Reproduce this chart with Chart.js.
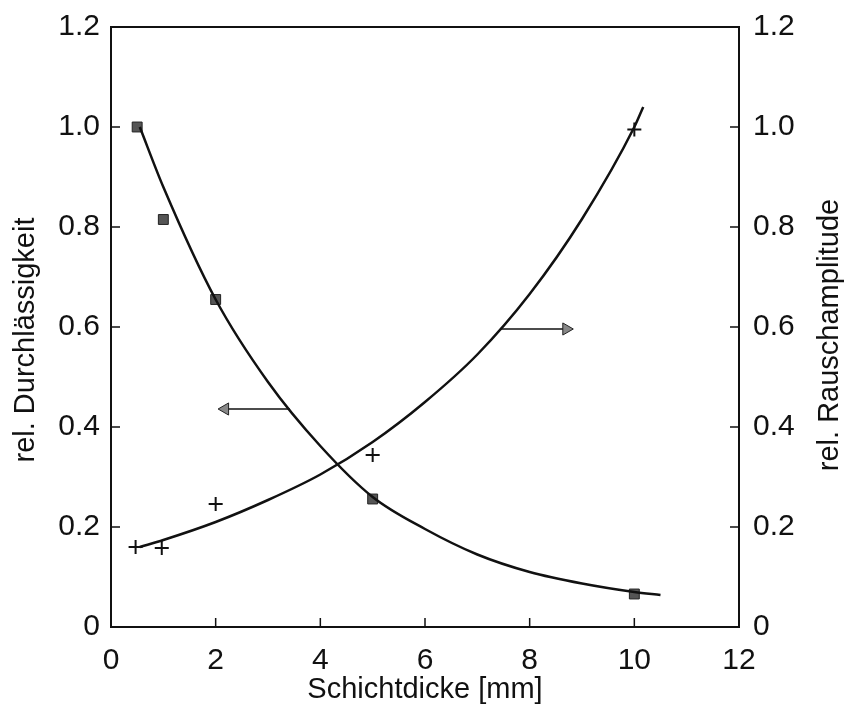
<!DOCTYPE html>
<html>
<head>
<meta charset="utf-8">
<script src="https://cdn.jsdelivr.net/npm/chart.js@4"></script>
<style>
  html, body { margin: 0; padding: 0; background: #fff; }
  #wrap { width: 846px; height: 720px; }
</style>
</head>
<body>
<div id="wrap"><canvas id="chart" width="846" height="720"></canvas></div>
<script>
// measured points
const thickness = [0.5, 1, 2, 5, 10];
const transmission = [1.0, 0.815, 0.655, 0.256, 0.066];
const noiseX = [0.47, 0.97, 2.0, 5.0, 10.0];
const noise = [0.16, 0.158, 0.246, 0.344, 0.995];

// fitted curves
const fitTransX = [0.55, 1, 2, 3, 4, 5, 6, 7, 8, 9, 10, 10.5];
const fitTransY = [1.0, 0.88, 0.655, 0.49, 0.362, 0.26, 0.196, 0.145, 0.11, 0.087, 0.07, 0.064];
const fitNoiseX = [0.55, 1, 2, 3, 4, 5, 6, 7, 8, 9, 10, 10.17];
const fitNoiseY = [0.16, 0.174, 0.21, 0.254, 0.305, 0.37, 0.45, 0.545, 0.666, 0.816, 1.0, 1.04];

// arrows pointing to the matching axis
const arrowLeftX = [3.42, 2.18];
const arrowLeftY = [0.436, 0.436];
const arrowRightX = [7.44, 8.70];
const arrowRightY = [0.596, 0.596];

const xTicks = [0, 2, 4, 6, 8, 10, 12];
const yTicks = [0, 0.2, 0.4, 0.6, 0.8, 1.0, 1.2];

const FONT = "'Liberation Sans', Arial, sans-serif";

function pts(xs, ys) {
    return xs.map((x, i) => ({ x: x, y: ys[i] }));
}

function fmt(v) {
    return v === 0 ? '0' : v.toFixed(1);
}

const framePlugin = {
    id: 'frame',
    afterDraw(chart) {
        const ctx = chart.ctx;
        const a = chart.chartArea;
        const sx = chart.scales.x, sy = chart.scales.y, sy2 = chart.scales.y2;
        ctx.save();
        ctx.strokeStyle = '#111';
        ctx.lineWidth = 2;
        ctx.strokeRect(a.left, a.top, a.right - a.left, a.bottom - a.top);

        // inward tick marks
        ctx.lineWidth = 1.5;
        ctx.beginPath();
        xTicks.slice(1, -1).forEach(v => {
            const px = sx.getPixelForValue(v);
            ctx.moveTo(px, a.bottom);
            ctx.lineTo(px, a.bottom - 9);
        });
        yTicks.slice(1, -1).forEach(v => {
            const py = sy.getPixelForValue(v);
            ctx.moveTo(a.left, py);
            ctx.lineTo(a.left + 9, py);
            const py2 = sy2.getPixelForValue(v);
            ctx.moveTo(a.right, py2);
            ctx.lineTo(a.right - 9, py2);
        });
        ctx.stroke();

        // axis titles
        ctx.fillStyle = '#111';
        ctx.font = '29px ' + FONT;
        ctx.textAlign = 'center';
        ctx.textBaseline = 'middle';
        ctx.fillText('Schichtdicke [mm]', 425, 690);

        ctx.translate(26, 340);
        ctx.rotate(-Math.PI / 2);
        ctx.fillText('rel. Durchlässigkeit', 0, 0);
        ctx.setTransform(1, 0, 0, 1, 0, 0);

        ctx.translate(830, 335);
        ctx.rotate(-Math.PI / 2);
        ctx.fillText('rel. Rauschamplitude', 0, 0);
        ctx.restore();
    }
};

const ctx = document.getElementById('chart').getContext('2d');
const chart = new Chart(ctx, {
    type: 'scatter',
    data: {
        datasets: [
            {
                label: 'Durchlässigkeit Fit',
                data: pts(fitTransX, fitTransY),
                yAxisID: 'y',
                showLine: true,
                cubicInterpolationMode: 'monotone',
                borderColor: '#111',
                borderWidth: 2.5,
                pointRadius: 0
            },
            {
                label: 'Rauschamplitude Fit',
                data: pts(fitNoiseX, fitNoiseY),
                yAxisID: 'y2',
                showLine: true,
                cubicInterpolationMode: 'monotone',
                borderColor: '#111',
                borderWidth: 2.5,
                pointRadius: 0
            },
            {
                label: 'rel. Durchlässigkeit',
                data: pts(thickness, transmission),
                yAxisID: 'y',
                pointStyle: 'rect',
                pointRadius: 7,
                backgroundColor: '#555',
                borderColor: '#222',
                borderWidth: 1
            },
            {
                label: 'rel. Rauschamplitude',
                data: pts(noiseX, noise),
                yAxisID: 'y2',
                pointStyle: 'cross',
                pointRadius: 7,
                borderColor: '#111',
                borderWidth: 2
            },
            {
                label: 'arrow left',
                data: pts(arrowLeftX, arrowLeftY),
                yAxisID: 'y',
                showLine: true,
                borderColor: '#111',
                borderWidth: 1.5,
                pointStyle: 'triangle',
                pointRotation: -90,
                pointRadius: [0, 7],
                pointBackgroundColor: '#888',
                pointBorderColor: '#222',
                pointBorderWidth: 1
            },
            {
                label: 'arrow right',
                data: pts(arrowRightX, arrowRightY),
                yAxisID: 'y2',
                showLine: true,
                borderColor: '#111',
                borderWidth: 1.5,
                pointStyle: 'triangle',
                pointRotation: 90,
                pointRadius: [0, 7],
                pointBackgroundColor: '#888',
                pointBorderColor: '#222',
                pointBorderWidth: 1
            }
        ]
    },
    options: {
        responsive: false,
        animation: false,
        events: [],
        layout: { padding: { top: 27, left: 0, right: 0, bottom: 0 } },
        plugins: {
            legend: { display: false },
            tooltip: { enabled: false }
        },
        scales: {
            x: {
                type: 'linear',
                min: 0,
                max: 12,
                afterBuildTicks: s => { s.ticks = xTicks.map(v => ({ value: v })); },
                afterFit: s => { s.height = 93; },
                grid: { display: false },
                border: { display: false },
                ticks: {
                    padding: 8,
                    color: '#111',
                    font: { family: FONT, size: 30 },
                    callback: v => String(v)
                }
            },
            y: {
                position: 'left',
                min: 0,
                max: 1.2,
                afterBuildTicks: s => { s.ticks = yTicks.map(v => ({ value: v })); },
                afterFit: s => { s.width = 111; },
                grid: { display: false },
                border: { display: false },
                ticks: {
                    padding: 3,
                    color: '#111',
                    font: { family: FONT, size: 30 },
                    callback: v => fmt(v)
                }
            },
            y2: {
                position: 'right',
                min: 0,
                max: 1.2,
                afterBuildTicks: s => { s.ticks = yTicks.map(v => ({ value: v })); },
                afterFit: s => { s.width = 107; },
                grid: { display: false },
                border: { display: false },
                ticks: {
                    padding: 6,
                    color: '#111',
                    font: { family: FONT, size: 30 },
                    callback: v => fmt(v)
                }
            }
        }
    },
    plugins: [framePlugin]
});
</script>
</body>
</html>
